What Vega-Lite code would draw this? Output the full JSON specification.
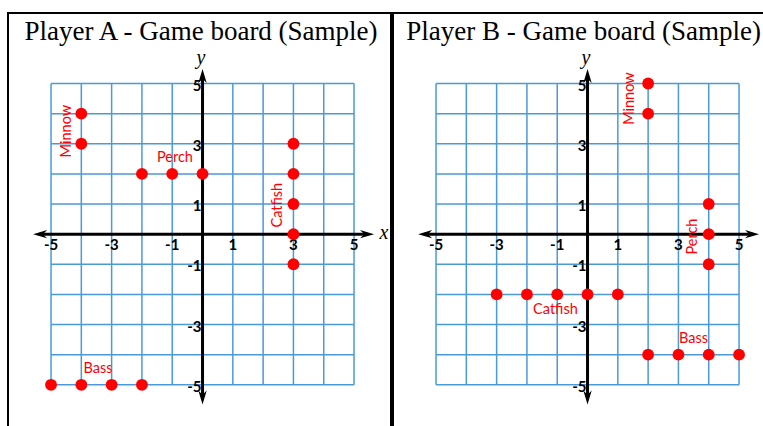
{
  "$schema": "https://vega.github.io/schema/vega-lite/v6.json",
  "background": "white",
  "padding": {"left": 7, "top": 12, "right": 0, "bottom": 0},
  "spacing": 0,
  "config": {"view": {"stroke": "black", "strokeWidth": 2}},
  "datasets": {
    "grid": [{"v": -5}, {"v": -4}, {"v": -3}, {"v": -2}, {"v": -1}, {"v": 0}, {"v": 1}, {"v": 2}, {"v": 3}, {"v": 4}, {"v": 5}],
    "ticks": [{"v": -5}, {"v": -3}, {"v": -1}, {"v": 1}, {"v": 3}, {"v": 5}],
    "titleA": [{"title": "Player A - Game board (Sample)"}],
    "titleB": [{"title": "Player B - Game board (Sample)"}],
    "pointsA": [
      {"fish": "Minnow", "x": -4, "y": 4}, {"fish": "Minnow", "x": -4, "y": 3},
      {"fish": "Perch", "x": -2, "y": 2}, {"fish": "Perch", "x": -1, "y": 2}, {"fish": "Perch", "x": 0, "y": 2},
      {"fish": "Catfish", "x": 3, "y": 3}, {"fish": "Catfish", "x": 3, "y": 2}, {"fish": "Catfish", "x": 3, "y": 1}, {"fish": "Catfish", "x": 3, "y": 0}, {"fish": "Catfish", "x": 3, "y": -1},
      {"fish": "Bass", "x": -5, "y": -5}, {"fish": "Bass", "x": -4, "y": -5}, {"fish": "Bass", "x": -3, "y": -5}, {"fish": "Bass", "x": -2, "y": -5}
    ],
    "pointsB": [
      {"fish": "Minnow", "x": 2, "y": 5}, {"fish": "Minnow", "x": 2, "y": 4},
      {"fish": "Perch", "x": 4, "y": 1}, {"fish": "Perch", "x": 4, "y": 0}, {"fish": "Perch", "x": 4, "y": -1},
      {"fish": "Catfish", "x": -3, "y": -2}, {"fish": "Catfish", "x": -2, "y": -2}, {"fish": "Catfish", "x": -1, "y": -2}, {"fish": "Catfish", "x": 0, "y": -2}, {"fish": "Catfish", "x": 1, "y": -2},
      {"fish": "Bass", "x": 2, "y": -4}, {"fish": "Bass", "x": 3, "y": -4}, {"fish": "Bass", "x": 4, "y": -4}, {"fish": "Bass", "x": 5, "y": -4}
    ],
    "labelsA": [
      {"fish": "Minnow", "x": -4.47, "y": 3.42, "dir": "vertical"},
      {"fish": "Perch", "x": -0.91, "y": 2.52, "dir": "horizontal"},
      {"fish": "Catfish", "x": 2.49, "y": 0.96, "dir": "vertical"},
      {"fish": "Bass", "x": -3.45, "y": -4.49, "dir": "horizontal"}
    ],
    "labelsB": [
      {"fish": "Minnow", "x": 1.39, "y": 4.5, "dir": "vertical"},
      {"fish": "Perch", "x": 3.47, "y": -0.08, "dir": "vertical"},
      {"fish": "Catfish", "x": -1.06, "y": -2.52, "dir": "horizontal"},
      {"fish": "Bass", "x": 3.5, "y": -3.49, "dir": "horizontal"}
    ]
  },
  "hconcat": [
    {
      "width": 383,
      "height": 417,
      "layer": [
        {"data": {"name": "grid"}, "mark": {"type": "rule", "color": "#4a9ad8", "strokeWidth": 1.5},
         "encoding": {"x": {"field": "v", "type": "quantitative", "scale": {"domain": [-6.42, 6.22], "nice": false, "zero": false}, "axis": null},
                      "y": {"datum": -5, "type": "quantitative", "scale": {"domain": [-6.5, 7.34], "nice": false, "zero": false}, "axis": null},
                      "y2": {"datum": 5}}},
        {"data": {"name": "grid"}, "mark": {"type": "rule", "color": "#4a9ad8", "strokeWidth": 1.5},
         "encoding": {"y": {"field": "v", "type": "quantitative", "scale": {"domain": [-6.5, 7.34], "nice": false, "zero": false}, "axis": null},
                      "x": {"datum": -5, "type": "quantitative", "scale": {"domain": [-6.42, 6.22], "nice": false, "zero": false}, "axis": null},
                      "x2": {"datum": 5}}},
        {"data": {"name": "titleA"}, "mark": {"type": "rule", "color": "black", "strokeWidth": 3},
         "encoding": {"x": {"datum": -5.4, "type": "quantitative", "scale": {"domain": [-6.42, 6.22], "nice": false, "zero": false}, "axis": null},
                      "x2": {"datum": 5.45},
                      "y": {"datum": 0, "type": "quantitative", "scale": {"domain": [-6.5, 7.34], "nice": false, "zero": false}, "axis": null}}},
        {"data": {"name": "titleA"}, "mark": {"type": "rule", "color": "black", "strokeWidth": 3},
         "encoding": {"x": {"datum": 0, "type": "quantitative", "scale": {"domain": [-6.42, 6.22], "nice": false, "zero": false}, "axis": null},
                      "y": {"datum": -5.45, "type": "quantitative", "scale": {"domain": [-6.5, 7.34], "nice": false, "zero": false}, "axis": null},
                      "y2": {"datum": 5.3}}},
        {"data": {"name": "titleA"}, "mark": {"type": "point", "shape": "M1,0L-1,-0.6L-0.4,0L-1,0.6Z", "filled": true, "color": "black", "opacity": 1, "size": 196},
         "encoding": {"x": {"datum": 5.43, "type": "quantitative", "scale": {"domain": [-6.42, 6.22], "nice": false, "zero": false}, "axis": null},
                      "y": {"datum": 0, "type": "quantitative", "scale": {"domain": [-6.5, 7.34], "nice": false, "zero": false}, "axis": null}}},
        {"data": {"name": "titleA"}, "mark": {"type": "point", "shape": "M-1,0L1,-0.6L0.4,0L1,0.6Z", "filled": true, "color": "black", "opacity": 1, "size": 196},
         "encoding": {"x": {"datum": -5.36, "type": "quantitative", "scale": {"domain": [-6.42, 6.22], "nice": false, "zero": false}, "axis": null},
                      "y": {"datum": 0, "type": "quantitative", "scale": {"domain": [-6.5, 7.34], "nice": false, "zero": false}, "axis": null}}},
        {"data": {"name": "titleA"}, "mark": {"type": "point", "shape": "M0,-1L-0.6,1L0,0.4L0.6,1Z", "filled": true, "color": "black", "opacity": 1, "size": 196},
         "encoding": {"x": {"datum": 0, "type": "quantitative", "scale": {"domain": [-6.42, 6.22], "nice": false, "zero": false}, "axis": null},
                      "y": {"datum": 5.25, "type": "quantitative", "scale": {"domain": [-6.5, 7.34], "nice": false, "zero": false}, "axis": null}}},
        {"data": {"name": "titleA"}, "mark": {"type": "point", "shape": "M0,1L-0.6,-1L0,-0.4L0.6,-1Z", "filled": true, "color": "black", "opacity": 1, "size": 196},
         "encoding": {"x": {"datum": 0, "type": "quantitative", "scale": {"domain": [-6.42, 6.22], "nice": false, "zero": false}, "axis": null},
                      "y": {"datum": -5.42, "type": "quantitative", "scale": {"domain": [-6.5, 7.34], "nice": false, "zero": false}, "axis": null}}},
        {"data": {"name": "ticks"}, "mark": {"type": "text", "font": "Lato", "fontSize": 15, "fontWeight": "bold", "color": "black", "align": "center", "baseline": "middle"},
         "encoding": {"x": {"field": "v", "type": "quantitative", "scale": {"domain": [-6.42, 6.22], "nice": false, "zero": false}, "axis": null},
                      "y": {"datum": -0.35, "type": "quantitative", "scale": {"domain": [-6.5, 7.34], "nice": false, "zero": false}, "axis": null},
                      "text": {"field": "v", "type": "nominal"}}},
        {"data": {"name": "ticks"}, "mark": {"type": "text", "font": "Lato", "fontSize": 15, "fontWeight": "bold", "color": "black", "align": "right", "baseline": "middle", "dx": -1, "dy": 2},
         "encoding": {"y": {"field": "v", "type": "quantitative", "scale": {"domain": [-6.5, 7.34], "nice": false, "zero": false}, "axis": null},
                      "x": {"datum": 0, "type": "quantitative", "scale": {"domain": [-6.42, 6.22], "nice": false, "zero": false}, "axis": null},
                      "text": {"field": "v", "type": "nominal"}}},
        {"data": {"name": "pointsA"}, "mark": {"type": "circle", "color": "#ff0000", "opacity": 1, "size": 140},
         "encoding": {"x": {"field": "x", "type": "quantitative", "scale": {"domain": [-6.42, 6.22], "nice": false, "zero": false}, "axis": null},
                      "y": {"field": "y", "type": "quantitative", "scale": {"domain": [-6.5, 7.34], "nice": false, "zero": false}, "axis": null}}},
        {"data": {"name": "labelsA"}, "transform": [{"filter": "datum.dir === 'horizontal'"}],
         "mark": {"type": "text", "font": "Lato", "fontSize": 14.5, "color": "#ff0000", "align": "center", "baseline": "middle"},
         "encoding": {"x": {"field": "x", "type": "quantitative", "scale": {"domain": [-6.42, 6.22], "nice": false, "zero": false}, "axis": null},
                      "y": {"field": "y", "type": "quantitative", "scale": {"domain": [-6.5, 7.34], "nice": false, "zero": false}, "axis": null},
                      "text": {"field": "fish"}}},
        {"data": {"name": "labelsA"}, "transform": [{"filter": "datum.dir === 'vertical'"}],
         "mark": {"type": "text", "font": "Lato", "fontSize": 14.5, "color": "#ff0000", "align": "center", "baseline": "middle", "angle": 270},
         "encoding": {"x": {"field": "x", "type": "quantitative", "scale": {"domain": [-6.42, 6.22], "nice": false, "zero": false}, "axis": null},
                      "y": {"field": "y", "type": "quantitative", "scale": {"domain": [-6.5, 7.34], "nice": false, "zero": false}, "axis": null},
                      "text": {"field": "fish"}}},
        {"data": {"name": "titleA"}, "mark": {"type": "text", "text": "x", "font": "Liberation Serif", "fontStyle": "italic", "fontSize": 20, "color": "black", "align": "center", "baseline": "middle"},
         "encoding": {"x": {"datum": 5.99, "type": "quantitative", "scale": {"domain": [-6.42, 6.22], "nice": false, "zero": false}, "axis": null},
                      "y": {"datum": 0.05, "type": "quantitative", "scale": {"domain": [-6.5, 7.34], "nice": false, "zero": false}, "axis": null}}},
        {"data": {"name": "titleA"}, "mark": {"type": "text", "text": "y", "font": "Liberation Serif", "fontStyle": "italic", "fontSize": 20, "color": "black", "align": "center", "baseline": "middle"},
         "encoding": {"x": {"datum": -0.05, "type": "quantitative", "scale": {"domain": [-6.42, 6.22], "nice": false, "zero": false}, "axis": null},
                      "y": {"datum": 5.85, "type": "quantitative", "scale": {"domain": [-6.5, 7.34], "nice": false, "zero": false}, "axis": null}}},
        {"data": {"name": "titleA"}, "mark": {"type": "text", "font": "Liberation Serif", "fontSize": 27, "color": "black", "align": "center", "baseline": "alphabetic"},
         "encoding": {"x": {"datum": -0.05, "type": "quantitative", "scale": {"domain": [-6.42, 6.22], "nice": false, "zero": false}, "axis": null},
                      "y": {"datum": 6.45, "type": "quantitative", "scale": {"domain": [-6.5, 7.34], "nice": false, "zero": false}, "axis": null},
                      "text": {"field": "title"}}}
      ]
    },
    {
      "width": 383,
      "height": 417,
      "layer": [
        {"data": {"name": "grid"}, "mark": {"type": "rule", "color": "#4a9ad8", "strokeWidth": 1.5},
         "encoding": {"x": {"field": "v", "type": "quantitative", "scale": {"domain": [-6.42, 6.22], "nice": false, "zero": false}, "axis": null},
                      "y": {"datum": -5, "type": "quantitative", "scale": {"domain": [-6.5, 7.34], "nice": false, "zero": false}, "axis": null},
                      "y2": {"datum": 5}}},
        {"data": {"name": "grid"}, "mark": {"type": "rule", "color": "#4a9ad8", "strokeWidth": 1.5},
         "encoding": {"y": {"field": "v", "type": "quantitative", "scale": {"domain": [-6.5, 7.34], "nice": false, "zero": false}, "axis": null},
                      "x": {"datum": -5, "type": "quantitative", "scale": {"domain": [-6.42, 6.22], "nice": false, "zero": false}, "axis": null},
                      "x2": {"datum": 5}}},
        {"data": {"name": "titleB"}, "mark": {"type": "rule", "color": "black", "strokeWidth": 3},
         "encoding": {"x": {"datum": -5.4, "type": "quantitative", "scale": {"domain": [-6.42, 6.22], "nice": false, "zero": false}, "axis": null},
                      "x2": {"datum": 5.45},
                      "y": {"datum": 0, "type": "quantitative", "scale": {"domain": [-6.5, 7.34], "nice": false, "zero": false}, "axis": null}}},
        {"data": {"name": "titleB"}, "mark": {"type": "rule", "color": "black", "strokeWidth": 3},
         "encoding": {"x": {"datum": 0, "type": "quantitative", "scale": {"domain": [-6.42, 6.22], "nice": false, "zero": false}, "axis": null},
                      "y": {"datum": -5.45, "type": "quantitative", "scale": {"domain": [-6.5, 7.34], "nice": false, "zero": false}, "axis": null},
                      "y2": {"datum": 5.3}}},
        {"data": {"name": "titleB"}, "mark": {"type": "point", "shape": "M1,0L-1,-0.6L-0.4,0L-1,0.6Z", "filled": true, "color": "black", "opacity": 1, "size": 196},
         "encoding": {"x": {"datum": 5.43, "type": "quantitative", "scale": {"domain": [-6.42, 6.22], "nice": false, "zero": false}, "axis": null},
                      "y": {"datum": 0, "type": "quantitative", "scale": {"domain": [-6.5, 7.34], "nice": false, "zero": false}, "axis": null}}},
        {"data": {"name": "titleB"}, "mark": {"type": "point", "shape": "M-1,0L1,-0.6L0.4,0L1,0.6Z", "filled": true, "color": "black", "opacity": 1, "size": 196},
         "encoding": {"x": {"datum": -5.36, "type": "quantitative", "scale": {"domain": [-6.42, 6.22], "nice": false, "zero": false}, "axis": null},
                      "y": {"datum": 0, "type": "quantitative", "scale": {"domain": [-6.5, 7.34], "nice": false, "zero": false}, "axis": null}}},
        {"data": {"name": "titleB"}, "mark": {"type": "point", "shape": "M0,-1L-0.6,1L0,0.4L0.6,1Z", "filled": true, "color": "black", "opacity": 1, "size": 196},
         "encoding": {"x": {"datum": 0, "type": "quantitative", "scale": {"domain": [-6.42, 6.22], "nice": false, "zero": false}, "axis": null},
                      "y": {"datum": 5.25, "type": "quantitative", "scale": {"domain": [-6.5, 7.34], "nice": false, "zero": false}, "axis": null}}},
        {"data": {"name": "titleB"}, "mark": {"type": "point", "shape": "M0,1L-0.6,-1L0,-0.4L0.6,-1Z", "filled": true, "color": "black", "opacity": 1, "size": 196},
         "encoding": {"x": {"datum": 0, "type": "quantitative", "scale": {"domain": [-6.42, 6.22], "nice": false, "zero": false}, "axis": null},
                      "y": {"datum": -5.42, "type": "quantitative", "scale": {"domain": [-6.5, 7.34], "nice": false, "zero": false}, "axis": null}}},
        {"data": {"name": "ticks"}, "mark": {"type": "text", "font": "Lato", "fontSize": 15, "fontWeight": "bold", "color": "black", "align": "center", "baseline": "middle"},
         "encoding": {"x": {"field": "v", "type": "quantitative", "scale": {"domain": [-6.42, 6.22], "nice": false, "zero": false}, "axis": null},
                      "y": {"datum": -0.35, "type": "quantitative", "scale": {"domain": [-6.5, 7.34], "nice": false, "zero": false}, "axis": null},
                      "text": {"field": "v", "type": "nominal"}}},
        {"data": {"name": "ticks"}, "mark": {"type": "text", "font": "Lato", "fontSize": 15, "fontWeight": "bold", "color": "black", "align": "right", "baseline": "middle", "dx": -1, "dy": 2},
         "encoding": {"y": {"field": "v", "type": "quantitative", "scale": {"domain": [-6.5, 7.34], "nice": false, "zero": false}, "axis": null},
                      "x": {"datum": 0, "type": "quantitative", "scale": {"domain": [-6.42, 6.22], "nice": false, "zero": false}, "axis": null},
                      "text": {"field": "v", "type": "nominal"}}},
        {"data": {"name": "pointsB"}, "mark": {"type": "circle", "color": "#ff0000", "opacity": 1, "size": 140},
         "encoding": {"x": {"field": "x", "type": "quantitative", "scale": {"domain": [-6.42, 6.22], "nice": false, "zero": false}, "axis": null},
                      "y": {"field": "y", "type": "quantitative", "scale": {"domain": [-6.5, 7.34], "nice": false, "zero": false}, "axis": null}}},
        {"data": {"name": "labelsB"}, "transform": [{"filter": "datum.dir === 'horizontal'"}],
         "mark": {"type": "text", "font": "Lato", "fontSize": 14.5, "color": "#ff0000", "align": "center", "baseline": "middle"},
         "encoding": {"x": {"field": "x", "type": "quantitative", "scale": {"domain": [-6.42, 6.22], "nice": false, "zero": false}, "axis": null},
                      "y": {"field": "y", "type": "quantitative", "scale": {"domain": [-6.5, 7.34], "nice": false, "zero": false}, "axis": null},
                      "text": {"field": "fish"}}},
        {"data": {"name": "labelsB"}, "transform": [{"filter": "datum.dir === 'vertical'"}],
         "mark": {"type": "text", "font": "Lato", "fontSize": 14.5, "color": "#ff0000", "align": "center", "baseline": "middle", "angle": 270},
         "encoding": {"x": {"field": "x", "type": "quantitative", "scale": {"domain": [-6.42, 6.22], "nice": false, "zero": false}, "axis": null},
                      "y": {"field": "y", "type": "quantitative", "scale": {"domain": [-6.5, 7.34], "nice": false, "zero": false}, "axis": null},
                      "text": {"field": "fish"}}},
        {"data": {"name": "titleB"}, "mark": {"type": "text", "text": "x", "font": "Liberation Serif", "fontStyle": "italic", "fontSize": 20, "color": "black", "align": "center", "baseline": "middle"},
         "encoding": {"x": {"datum": 5.99, "type": "quantitative", "scale": {"domain": [-6.42, 6.22], "nice": false, "zero": false}, "axis": null},
                      "y": {"datum": 0.05, "type": "quantitative", "scale": {"domain": [-6.5, 7.34], "nice": false, "zero": false}, "axis": null}}},
        {"data": {"name": "titleB"}, "mark": {"type": "text", "text": "y", "font": "Liberation Serif", "fontStyle": "italic", "fontSize": 20, "color": "black", "align": "center", "baseline": "middle"},
         "encoding": {"x": {"datum": -0.05, "type": "quantitative", "scale": {"domain": [-6.42, 6.22], "nice": false, "zero": false}, "axis": null},
                      "y": {"datum": 5.85, "type": "quantitative", "scale": {"domain": [-6.5, 7.34], "nice": false, "zero": false}, "axis": null}}},
        {"data": {"name": "titleB"}, "mark": {"type": "text", "font": "Liberation Serif", "fontSize": 27, "color": "black", "align": "center", "baseline": "alphabetic"},
         "encoding": {"x": {"datum": -0.13, "type": "quantitative", "scale": {"domain": [-6.42, 6.22], "nice": false, "zero": false}, "axis": null},
                      "y": {"datum": 6.45, "type": "quantitative", "scale": {"domain": [-6.5, 7.34], "nice": false, "zero": false}, "axis": null},
                      "text": {"field": "title"}}}
      ]
    }
  ]
}
